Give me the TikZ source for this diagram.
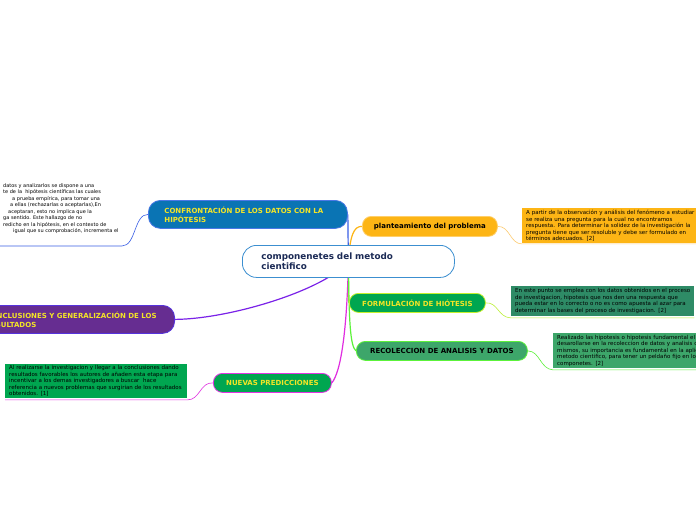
\documentclass[tikz,border=0pt]{standalone}
\usepackage{fontspec}
\setmainfont{DejaVu Sans}
\usetikzlibrary{calc}
\definecolor{cenb}{HTML}{3C8FD0}
\definecolor{navy}{HTML}{1B2A55}
\definecolor{ttl}{HTML}{F4E526}
\definecolor{confc}{HTML}{0A74B4}
\definecolor{confb}{HTML}{4A78E6}
\definecolor{plantc}{HTML}{FDB515}
\definecolor{plantb}{HTML}{FFCF6A}
\definecolor{formc}{HTML}{00A650}
\definecolor{formb}{HTML}{C6F02C}
\definecolor{fnotec}{HTML}{2E8B66}
\definecolor{recc}{HTML}{3DA66A}
\definecolor{recb}{HTML}{5CF23A}
\definecolor{concc}{HTML}{662D91}
\definecolor{concb}{HTML}{5533DD}
\definecolor{nuevb}{HTML}{E233E2}
\definecolor{lblue}{HTML}{3A5FE5}
\definecolor{lpurple}{HTML}{7A22E8}
\definecolor{lmag}{HTML}{E02DE0}
\definecolor{lyg}{HTML}{BDF03A}
\definecolor{lgreen}{HTML}{5CF23A}
\definecolor{lorange}{HTML}{FDB515}
\definecolor{lorange2}{HTML}{FDCB70}
\pgfdeclarelayer{bgfill}
\pgfdeclarelayer{lines}
\pgfsetlayers{bgfill,lines,main}
\begin{document}
\begin{tikzpicture}[x=1pt,y=-1pt,
  topic/.style={draw, line width=0.8pt, inner sep=0pt, anchor=north west, align=center,
    font=\bfseries\fontsize{7}{9}\selectfont},
  note/.style={anchor=north west, inner xsep=4pt, inner ysep=1.5pt, align=left,
    font=\fontsize{5.5}{6.5}\selectfont},
  link/.style={line width=1.2pt},
  sub/.style={line width=0.6pt}]
\begin{pgfonlayer}{bgfill}
\fill[white] (0,0) rectangle (696,520);
\end{pgfonlayer}
\useasboundingbox (0,0) rectangle (696,520);

% central topic
\node[topic, draw=cenb, fill=white, text=navy, rounded corners=14pt, minimum width=212pt,
  minimum height=32pt, text width=174pt, align=left,
  font=\bfseries\fontsize{8.8}{10}\selectfont] (center) at (242,245)
  {componenetes del metodo\\cientifico};

% main topics
\node[topic, draw=confb, fill=confc, text=ttl, rounded corners=12pt, minimum width=199pt,
  minimum height=28pt, text width=167pt, align=left] (conf) at (148,200)
  {CONFRONTACIÓN DE LOS DATOS CON LA\\HIPÓTESIS};
\node[topic, draw=plantb, fill=plantc, text=black, rounded corners=9pt, minimum width=135pt,
  minimum height=20pt] (plant) at (362,216) {planteamiento del problema};
\node[topic, draw=formb, fill=formc, text=ttl, rounded corners=9pt, minimum width=136pt,
  minimum height=19pt] (form) at (349,293) {FORMULACIÓN DE HIÓTESIS};
\node[topic, draw=recb, fill=recc, text=black, rounded corners=9pt, minimum width=171pt,
  minimum height=19pt] (recol) at (356,341) {RECOLECCION DE ANALISIS Y DATOS};
\node[topic, draw=nuevb, fill=formc, text=ttl, rounded corners=9pt, minimum width=118pt,
  minimum height=19pt] (nuev) at (213,373) {NUEVAS PREDICCIONES};
\node[topic, anchor=north east, draw=concb, fill=concc, text=ttl, rounded corners=12pt,
  minimum height=28pt, inner xsep=18pt, align=left] (conc) at (175,305)
  {CONCLUSIONES Y GENERALIZACIÓN DE LOS\\RESULTADOS};

% notes
\node[note, fill=plantc, text width=172pt, minimum height=35pt] (plantnote) at (522,208)
  {\mbox{A partir de la observación y análisis del fenómeno a estudiar}\\
   \mbox{se realiza una pregunta para la cual no encontramos}\\
   \mbox{respuesta. Para determinar la solidez de la investigación la}\\
   \mbox{pregunta tiene que ser resoluble y debe ser formulado en}\\
   \mbox{términos adecuados. [2]}};
\node[note, fill=fnotec, text width=175pt, minimum height=30pt] (formnote) at (511,286)
  {\mbox{En este punto se emplea con los datos obtenidos en el proceso}\\
   \mbox{de investigacion, hipotesis que nos den una respuesta que}\\
   \mbox{pueda estar en lo correcto o no es como apuesta al azar para}\\
   \mbox{determinar las bases del proceso de investigacion. [2]}};
\node[note, fill=recc, text width=160pt, minimum height=35pt] (recolnote) at (553,333)
  {\mbox{Realizado las hipotesis o hipotesis fundamental el}\\
   \mbox{desarollarse en la recoleccion de datos y analisis d}\\
   \mbox{mismos, su importancia es fundamental en la aplic}\\
   \mbox{metodo cientifico, para tener un peldaño fijo en lo}\\
   \mbox{componetes. [2]}};
\node[note, fill=formc, text width=174pt, minimum height=34pt] (nuevnote) at (5,364)
  {\mbox{Al realizarse la investigacion y llegar a la conclusiones dando}\\
   \mbox{resultados favorables los autores de añaden esta etapa para}\\
   \mbox{incentivar a los demas investigadores a buscar\ \ hace}\\
   \mbox{referencia a nuevos problemas que surgirian de los resultados}\\
   \mbox{obtenidos. [1]}};
\node[note, inner xsep=0pt, inner ysep=0pt, font=\fontsize{5}{6.5}\selectfont] (confnote) at (0,183)
  {\hspace*{3pt}datos y analizarlos se dispone a una\\
   \hspace*{3pt}te de la\ \ hipótesis científicas las cuales\\
   \hspace*{12pt}a prueba empírica, para tomar una\\
   \hspace*{10pt}a ellas (rechazarlas o aceptarlas),En\\
   \hspace*{8pt}aceptaran, esto no implica que la\\
   \hspace*{3pt}ga sentido. Este hallazgo de no\\
   \hspace*{3pt}redicho en la hipótesis, en el contexto de\\
   \hspace*{13pt}igual que su comprobación, incrementa el};
\coordinate (cu1) at (122,246);
\coordinate (cu0) at (0,246);

\begin{pgfonlayer}{lines}
\draw[link, lblue] (center.center) .. controls (348,235) and (348,224) .. (conf.east);
\draw[link, lorange] (center.center) .. controls (350,235) and (354,226) .. (plant.west);
\draw[link, lpurple] (center.center) .. controls (325,290) and (230,319) .. (conc.east);
\draw[link, lmag] (center.center) .. controls (347,330) and (341,372) .. (nuev.east);
\draw[link, lyg] (center.center) .. controls (349,285) and (348,298) .. (form.west);
\draw[link, lgreen] (center.center) .. controls (349,320) and (350,346) .. (recol.west);

\draw[sub, lblue] (conf.west) .. controls (134,214) and (136,246) .. (cu1) -- (cu0);
\draw[sub, lorange2] (plant.east) .. controls (510,226) and (510,244) .. ($(plantnote.south west)+(0,0.5)$)
  -- ($(plantnote.south east)+(0,0.5)$);
\draw[sub, lyg] (form.east) .. controls (498,302) and (498,317.5) .. ($(formnote.south west)+(0,1.5)$)
  -- ($(formnote.south east)+(0,1.5)$);
\draw[sub, lgreen] (recol.east) .. controls (540,351) and (540,369) .. ($(recolnote.south west)+(0,1.5)$)
  -- ($(recolnote.south east)+(0,1.5)$);
\draw[sub, lmag] (nuev.west) .. controls (200,382) and (200,400) .. ($(nuevnote.south east)+(0,1.5)$)
  -- ($(nuevnote.south west)+(0,1.5)$);
\end{pgfonlayer}
\end{tikzpicture}
\end{document}
